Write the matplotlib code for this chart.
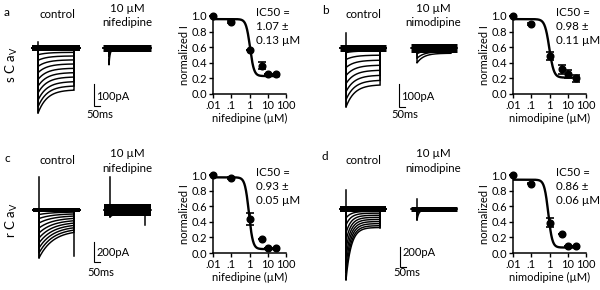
import numpy as np
import matplotlib.pyplot as plt

plt.rcParams['font.family'] = ['Lato', 'DejaVu Sans']
plt.rcParams['mathtext.fontset'] = 'custom'
plt.rcParams['mathtext.rm'] = 'Lato'

W, H = 600, 290
fig = plt.figure(figsize=(6, 2.9), dpi=100)


def rect(x, y, w, h):
    return [x / W, 1 - (y + h) / H, w / W, h / H]


def ftext(x, y, s, **kw):
    fig.text(x / W, 1 - y / H, s, **kw)


# ---- dose-response data (normalized I) ----
conc = [0.01, 0.1, 1, 5, 10, 30]
nif_s = [1.0, 0.92, 0.56, 0.36, 0.255, 0.26]
nif_s_err = [0, 0.01, 0, 0.045, 0, 0]
nim_s = [1.0, 0.90, 0.485, 0.315, 0.255, 0.20]
nim_s_err = [0, 0.015, 0.055, 0.06, 0.05, 0.04]
nif_r = [1.0, 0.96, 0.44, 0.18, 0.065, 0.065]
nif_r_err = [0, 0.01, 0.075, 0, 0, 0]
nim_r = [1.0, 0.89, 0.39, 0.24, 0.09, 0.09]
nim_r_err = [0, 0.01, 0.06, 0, 0, 0]

# Hill fits: top, bottom, IC50 (uM), slope
fit_nif_s = (0.96, 0.23, 1.07, 4)
fit_nim_s = (0.96, 0.21, 0.98, 3.5)
fit_nif_r = (0.97, 0.05, 0.93, 4)
fit_nim_r = (0.94, 0.07, 0.86, 4)

ic50_nif_s = ['IC50 =', '1.07 ±', '0.13 µM']
ic50_nim_s = ['IC50 =', '0.98 ±', '0.11 µM']
ic50_nif_r = ['IC50 =', '0.93 ±', '0.05 µM']
ic50_nim_r = ['IC50 =', '0.86 ±', '0.06 µM']

xtick_vals = [0.01, 0.1, 1, 10, 100]
xtick_labels = ['.01', '.1', '1', '10', '100']
ytick_vals = [0.0, 0.2, 0.4, 0.6, 0.8, 1.0]

# ---- current families: peak amplitude (pA), steady-state fraction, tau (ms) ----
pre, step, post = 50, 300, 50
sca_nif_ctrl = [290, 262, 232, 200, 170, 140, 110, 82, 55, 30]
sca_nif_drug = [75, 40, 20]
sca_nim_ctrl = [257, 225, 190, 155, 120, 85, 50, 20]
sca_nim_drug = [65, 45, 25]
rca_nif_ctrl = [480, 430, 380, 330, 280, 230, 180, 130, 85, 45]
rca_nif_drug = [70, 40, 20]
rca_nim_ctrl = [710, 640, 560, 480, 400, 320, 240, 160, 90]
rca_nim_drug = [110, 60, 30]
ctrl_ss = [0.64, 0.62, 0.42, 0.26]
ctrl_tau = [75, 75, 120, 45]
drug_ss = [0.1, 0.35, 0.5, 0.1]
drug_tau = [8, 60, 30, 15]
# capacitive transients (pA): onset (up), offset (down) for control / drug
onset_ctrl = [25, 65, 330, 190]
offset_ctrl = [0, 0, 460, 190]
onset_drug = [0, 0, 330, 100]
offset_drug = [0, 0, 150, 0]
scale_pa = [100, 100, 200, 200]
scale_ms = 50


def trace_xy(amp, ss, tau, t0):
    t = np.linspace(0, step, 300)
    i = -amp * (ss + (1 - ss) * np.exp(-t / tau))
    tt = np.concatenate([[-pre, 0], t, [step, step + post]]) + t0
    ii = np.concatenate([[0, 0], i, [0, 0]])
    return tt, ii


def trace_panel(k, ctrl, drug, box, ox, by, ms_px, pa_px, bar, pa_lab, ms_lab,
                band):
    bx, byy, bw, bh = box
    ax = fig.add_axes(rect(bx, byy, bw, bh))
    ax.set_xlim((bx - ox) * ms_px, (bx + bw - ox) * ms_px)
    ax.set_ylim(-(byy + bh - by) * pa_px, (by - byy) * pa_px)
    ax.axis('off')
    off = 71 * ms_px
    for amp in ctrl:
        t, i = trace_xy(amp, ctrl_ss[k], ctrl_tau[k], 0)
        ax.plot(t, i, color='black', lw=1.05, solid_joinstyle='miter')
    ax.plot([-pre, step + post], [0, 0], color='black', lw=band[0] * 0.72,
            solid_capstyle='butt')
    if onset_ctrl[k]:
        ax.plot([0, 0], [onset_ctrl[k], -ctrl[0]], color='black', lw=1.1)
    if offset_ctrl[k]:
        ax.plot([step, step], [0, -offset_ctrl[k]], color='black', lw=1.1)
    for amp in drug:
        t, i = trace_xy(amp, drug_ss[k], drug_tau[k], off)
        ax.plot(t, i, color='black', lw=1.05)
    ax.plot([off - pre, off + step + post], [0, 0], color='black',
            lw=band[1] * 0.72, solid_capstyle='butt')
    if onset_drug[k]:
        ax.plot([off, off], [onset_drug[k], -drug[0]], color='black', lw=1.1)
    if offset_drug[k]:
        ax.plot([off + step] * 2, [0, -offset_drug[k]], color='black', lw=1.1)
    # scale bar
    sx = (bar[0] - ox) * ms_px
    sy = -(bar[1] - by) * pa_px
    ax.plot([sx, sx, sx + scale_ms], [sy + scale_pa[k], sy, sy],
            color='black', lw=0.8, solid_joinstyle='miter')
    ftext(pa_lab[0], pa_lab[1], f'{scale_pa[k]}pA', fontsize=8, va='center')
    ftext(ms_lab[0], ms_lab[1], f'{scale_ms}ms', fontsize=8, va='center')


def dose_panel(x0, y1, vals, err, fit, drug, ic50, tx, ty):
    ax = fig.add_axes(rect(x0, y1 - 78, 73, 78))
    top, bottom, ic, n = fit
    xf = np.logspace(-2, np.log10(40), 300)
    ax.plot(xf, bottom + (top - bottom) / (1 + (xf / ic) ** n),
            color='black', lw=1.7)
    ax.errorbar(conc, vals, yerr=err, fmt='o', color='black', ms=4.8,
                capsize=3, elinewidth=1.2, capthick=1.2, clip_on=False,
                zorder=3)
    ax.set_xscale('log')
    ax.set_xlim(0.01, 100)
    ax.set_ylim(0, 1.0)
    ax.set_xticks(xtick_vals, xtick_labels)
    ax.set_yticks(ytick_vals, [f'{v:.1f}' for v in ytick_vals])
    for s in ['top', 'right']:
        ax.spines[s].set_visible(False)
    for s in ['left', 'bottom']:
        ax.spines[s].set_linewidth(1.1)
    ax.tick_params(which='major', length=3, width=1.0, labelsize=8, pad=1.5)
    ax.tick_params(which='minor', length=1.8, width=0.7)
    ax.set_xlabel(f'{drug} (µM)', fontsize=8, labelpad=1)
    ax.set_ylabel('normalized I', fontsize=8, labelpad=1)
    for j, line in enumerate(ic50):
        ftext(tx, ty + 14.5 * j, line, fontsize=8.3, va='center')


# panel letters, condition labels
for lx, ly, s in [(7, 13, 'a'), (325, 11, 'b'), (7, 158, 'c'), (325, 157, 'd')]:
    ftext(lx, ly, s, fontsize=8.5, va='center', ha='center')
for cx, cy, drug in [(57, 0, 'nifedipine'), (363, 0, 'nimodipine'),
                     (57, 145, 'nifedipine'), (363, 145, 'nimodipine')]:
    ftext(cx, cy + 15, 'control', fontsize=8.3, ha='center', va='center')
    ftext(cx + 70, cy + 8, '10 µM', fontsize=8.3, ha='center', va='center')
    ftext(cx + 70, cy + 23, drug, fontsize=8.3, ha='center', va='center')
ftext(12, 65, r's C a$_\mathrm{V}$', fontsize=9.5, rotation=90, ha='center',
      va='center')
ftext(12, 220, r'r C a$_\mathrm{V}$', fontsize=9.5, rotation=90, ha='center',
      va='center')

trace_panel(0, sca_nif_ctrl, sca_nif_drug, (25, 25, 140, 105), 38, 48, 8.33,
            4.45, (94, 106), (96, 97), (86, 115), (6, 7))
trace_panel(1, sca_nim_ctrl, sca_nim_drug, (330, 25, 140, 105), 346, 48, 8.8,
            4.35, (399, 107), (401, 97), (391, 115), (7, 9))
trace_panel(2, rca_nif_ctrl, rca_nif_drug, (25, 170, 140, 115), 39, 210, 8.6,
            10.0, (94, 262), (97, 252), (87, 272), (4, 12))
trace_panel(3, rca_nim_ctrl, rca_nim_drug, (330, 170, 140, 115), 346, 209,
            8.8, 10.0, (400, 267), (403, 252), (393, 272), (6, 5))

dose_panel(213, 94, nif_s, nif_s_err, fit_nif_s, 'nifedipine', ic50_nif_s,
           256, 12)
dose_panel(513, 94, nim_s, nim_s_err, fit_nim_s, 'nimodipine', ic50_nim_s,
           556, 12)
dose_panel(213, 253, nif_r, nif_r_err, fit_nif_r, 'nifedipine', ic50_nif_r,
           256, 172)
dose_panel(513, 253, nim_r, nim_r_err, fit_nim_r, 'nimodipine', ic50_nim_r,
           556, 172)

fig.savefig('out.png', dpi=100)
